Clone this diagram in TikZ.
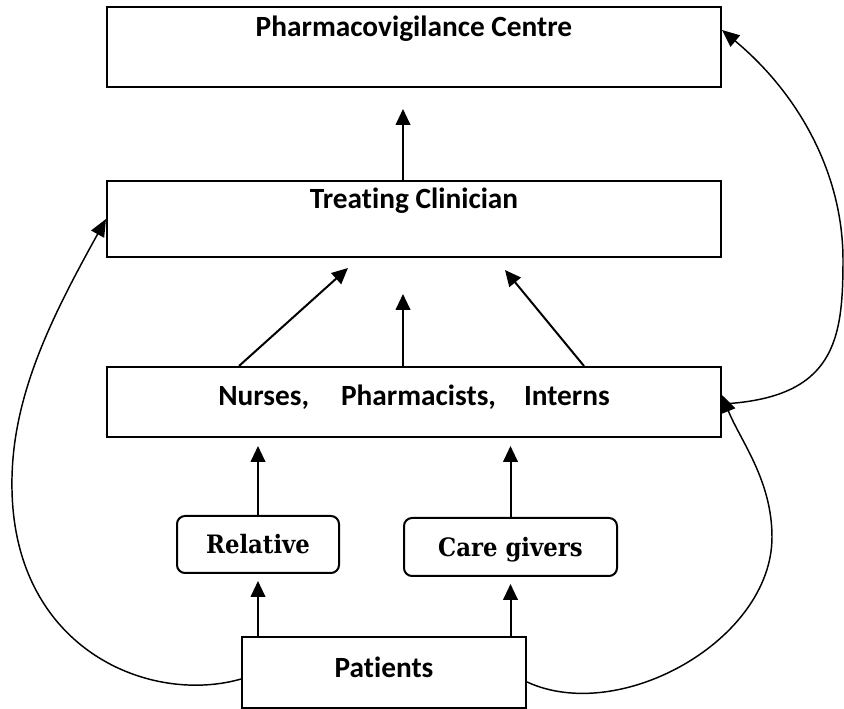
\documentclass[tikz,border=0pt]{standalone}
\usepackage{fontspec}
\setmainfont{Carlito}[Ligatures=NoCommon]
\newfontfamily\relfont{DejaVu Serif Condensed}[BoldFont={DejaVu Serif Condensed Bold}]
\usetikzlibrary{arrows.meta,calc}
\begin{document}
\begin{tikzpicture}[x=0.75pt,y=-0.75pt,
  box/.style={draw, line width=1.5pt, inner sep=0pt, align=center},
  bigtext/.style={font=\bfseries\fontsize{22}{26}\selectfont},
  roundbox/.style={draw, line width=1.5pt, inner sep=0pt, rounded corners=6pt,
    font=\relfont\bfseries\fontsize{19}{23}\selectfont, text height=13.8pt, text depth=0pt},
  arr/.style={line width=1.5pt, -{Triangle[length=12pt,width=11pt]}},
  curve/.style={line width=1.1pt, -{Triangle[length=13pt,width=11pt]}}
]
\useasboundingbox (0,0) rectangle (844,709);

\node[box, bigtext, minimum width=460.5pt, minimum height=60pt, text height=15pt, text depth=30pt] (pc) at (414,47) {Pharmacovigilance Centre};
\node[box, bigtext, minimum width=460.5pt, minimum height=57pt, text height=15pt, text depth=30pt] (tc) at (414,219) {Treating Clinician};
\node[box, bigtext, minimum width=460.5pt, minimum height=52.5pt, text height=15pt, text depth=9pt] (nur) at (414,402) {Nurses,\hspace{24pt}Pharmacists,\hspace{21pt}Interns};
\node[roundbox, minimum width=121.5pt, minimum height=42.75pt] (rel) at (258,544.5) {Relative};
\node[roundbox, minimum width=159.75pt, minimum height=43.5pt] (cg) at (510.5,547) {Care givers};
\node[box, bigtext, minimum width=213pt, minimum height=53.25pt, text height=14.5pt, text depth=7.5pt] (pat) at (384,672.5) {Patients};

% straight arrows
\draw[arr] ([xshift=-8.25pt]tc.north) -- ([xshift=-8.25pt,yshift=-15.75pt]pc.south);
\draw[arr] ([xshift=-131.25pt]nur.north) -- ([xshift=-49.5pt,yshift=-7.5pt]tc.south);
\draw[arr] ([xshift=-8.25pt]nur.north) -- ([xshift=-8.25pt,yshift=-27pt]tc.south);
\draw[arr] ([xshift=127.5pt]nur.north) -- ([xshift=68.25pt,yshift=-9pt]tc.south);
\draw[arr, shorten >=6pt] (rel.north) -- (rel.north |- nur.south);
\draw[arr, shorten >=6pt] (cg.north) -- (cg.north |- nur.south);
\draw[arr, shorten >=5.25pt] (rel.south |- pat.north) -- (rel.south);
\draw[arr, shorten >=5.25pt] (cg.south |- pat.north) -- (cg.south);

% curved connectors
\draw[curve] ([yshift=-4.9pt]pat.west) .. controls (150,705) and (15,650) .. (12,490)
  .. controls (10,400) and (50,320) .. (tc.west);
\draw[curve] ([yshift=-7.1pt]pat.east) .. controls (620,725) and (772,640) .. (772,537)
  .. controls (772,480) and (740,440) .. ([yshift=5.25pt]nur.east);
\draw[curve] ([yshift=-1.5pt]nur.east) .. controls (835,398) and (843,340) .. (843,260)
  .. controls (843,175) and (800,95) .. ([yshift=12.75pt]pc.east);
\end{tikzpicture}
\end{document}
